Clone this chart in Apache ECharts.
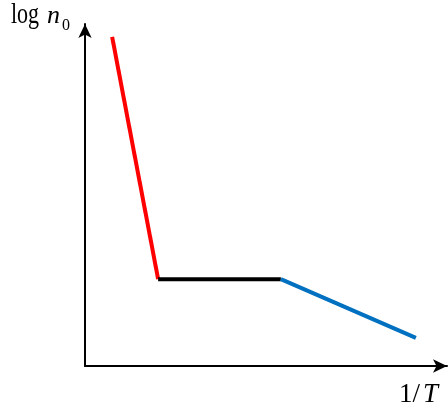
<!DOCTYPE html>
<html>
<head>
<meta charset="utf-8">
<script src="https://cdn.jsdelivr.net/npm/echarts@6/dist/echarts.min.js"></script>
<style>html,body{margin:0;padding:0;background:#fff}#c{width:448px;height:412px}</style>
</head>
<body>
<div id="c"></div>
<script>
// Piecewise segments of log n0 vs 1/T (arbitrary units)
var redX = [7.5, 20.2];
var redY = [96.2, 25.4];
var blackX = [20.2, 54.1];
var blackY = [25.4, 25.4];
var blueX = [54.1, 91.4];
var blueY = [25.4, 8.2];

function pairs(xs, ys){ return xs.map(function(x,i){ return [x, ys[i]]; }); }

var chart = echarts.init(document.getElementById('c'), null, {renderer:'canvas'});
var serif = '"Liberation Serif", "DejaVu Serif", serif';
var axisCommon = {
  type:'value', min:0, max:100,
  axisLine:{show:true, lineStyle:{color:'#000', width:2}, symbol:['none','arrow'], symbolSize:[10,14]},
  axisTick:{show:false}, axisLabel:{show:false}, splitLine:{show:false}
};
chart.setOption({
  animation:false,
  backgroundColor:'#fff',
  grid:{left:85, right:1, top:24, bottom:46},
  xAxis: Object.assign({}, axisCommon),
  yAxis: Object.assign({}, axisCommon),
  graphic:[
    {type:'text', x:11, y:0, scaleY:1.35, style:{text:'log', fontFamily:serif, fontSize:22, fill:'#000', verticalAlign:'top'}},
    {type:'text', x:47, y:3, style:{text:'n', fontFamily:serif, fontSize:26, fontStyle:'italic', fill:'#000', verticalAlign:'top'}},
    {type:'text', x:62, y:18, style:{text:'0', fontFamily:serif, fontSize:16, fill:'#000', verticalAlign:'top'}},
    {type:'text', x:399, y:380, scaleY:1.05, style:{
      text:'{a|1/}{b|T}',
      rich:{
        a:{fontFamily:serif, fontSize:27, fill:'#000'},
        b:{fontFamily:serif, fontSize:27, fontStyle:'italic', fill:'#000', padding:[0,0,0,3]}
      }}}
  ],
  series:[
    {type:'line', data:pairs(redX, redY), symbol:'none', lineStyle:{color:'#ff0000', width:4}},
    {type:'line', data:pairs(blackX, blackY), symbol:'none', lineStyle:{color:'#000000', width:4}},
    {type:'line', data:pairs(blueX, blueY), symbol:'none', lineStyle:{color:'#0070c0', width:4}}
  ]
});
</script>
</body>
</html>
